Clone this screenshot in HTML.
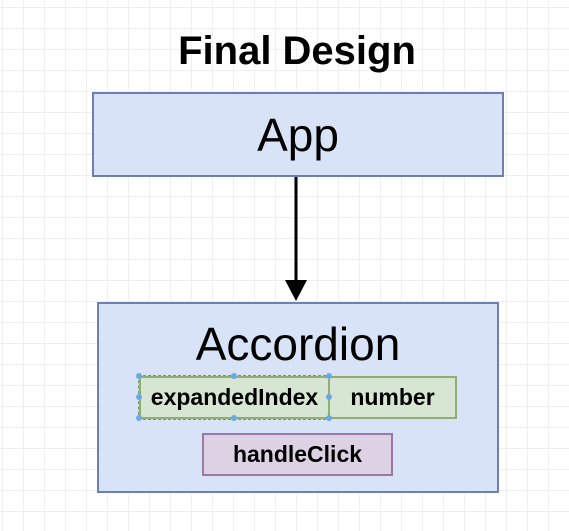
<!DOCTYPE html><html><head><style>
body{margin:0;width:569px;height:531px;position:relative;overflow:hidden;font-family:"Liberation Sans",sans-serif;
background-color:#fff;background-image:linear-gradient(#efefef 1px,transparent 1px),linear-gradient(90deg,#efefef 1px,transparent 1px);background-size:21px 21px;background-position:2px 7px;}
.b{position:absolute;box-sizing:border-box;display:flex;align-items:center;justify-content:center;color:#000}
.dot{position:absolute;width:6px;height:6px;border-radius:50%;background:#6aa8e8}
</style></head><body>
<div class="b" style="left:0;top:25px;width:594px;height:52px;font-size:40px;font-weight:bold">Final Design</div>
<div class="b" style="left:92px;top:92px;width:412px;height:85px;background:#d9e3f7;border:2px solid #6c80b5;font-size:46px">App</div>
<svg style="position:absolute;left:0;top:0" width="569" height="531"><line x1="296" y1="177" x2="296" y2="285" stroke="#000" stroke-width="3"/><polygon points="285,280 307,280 296,301" fill="#000"/></svg>
<div class="b" style="left:97px;top:302px;width:402px;height:191px;background:#d9e3f7;border:2px solid #6c80b5"></div>
<div class="b" style="left:97px;top:317px;width:402px;height:54px;font-size:46px">Accordion</div>
<div class="b" style="left:139px;top:376px;width:191px;height:43px;background:#d7e6d2;border:2px solid #8fae72;font-size:23px;font-weight:bold;outline:1px dashed #7a9a5a;white-space:nowrap">expandedIndex</div>
<div class="b" style="left:328px;top:376px;width:129px;height:43px;background:#d7e6d2;border:2px solid #8fae72;font-size:23px;font-weight:bold">number</div>
<div class="b" style="left:202px;top:433px;width:191px;height:43px;background:#dcd2e3;border:2px solid #9a78a8;font-size:23px;font-weight:bold">handleClick</div>
<div class="dot" style="left:136px;top:373px"></div><div class="dot" style="left:231px;top:373px"></div><div class="dot" style="left:326px;top:373px"></div>
<div class="dot" style="left:136px;top:394px"></div><div class="dot" style="left:326px;top:394px"></div>
<div class="dot" style="left:136px;top:415px"></div><div class="dot" style="left:231px;top:415px"></div><div class="dot" style="left:326px;top:415px"></div>
</body></html>
